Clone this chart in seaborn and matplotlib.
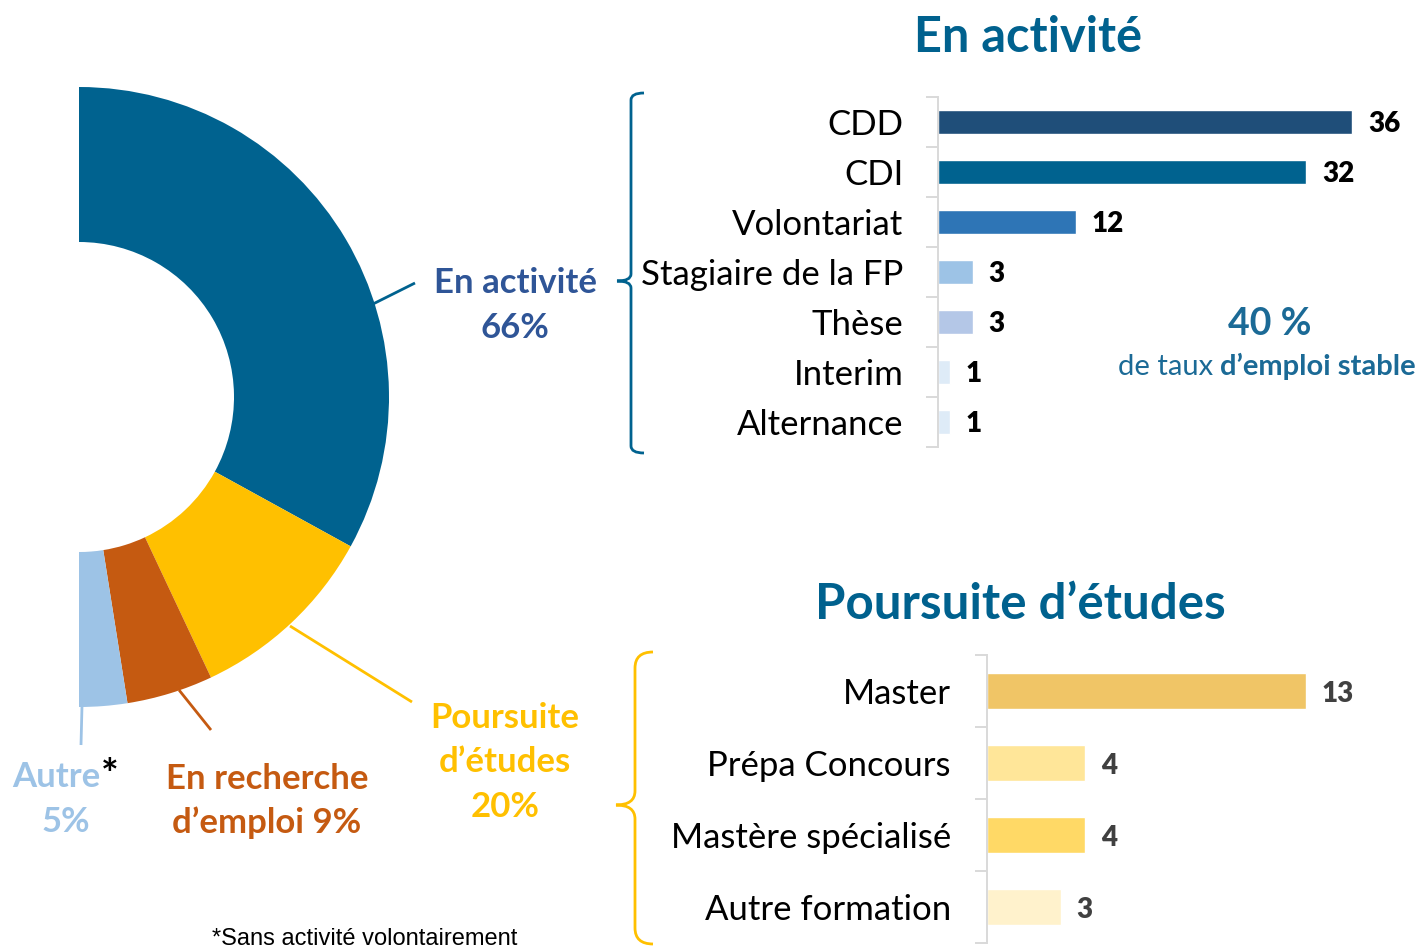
#
# Devenir des diplomes : demi-donut + 2 barres horizontales
#

import numpy as np
import matplotlib.pyplot as plt
from matplotlib.path import Path
from matplotlib.patches import PathPatch
import seaborn as sns

#%%
# Data

donut_labels = ["En activité", "Poursuite d’études", "En recherche d’emploi", "Autre"]
donut_pct = [66, 20, 9, 5]
donut_colors = ["#00628F", "#FFC000", "#C55A11", "#9DC3E6"]

act_cats = ["CDD", "CDI", "Volontariat", "Stagiaire de la FP", "Thèse", "Interim", "Alternance"]
act_vals = [36, 32, 12, 3, 3, 1, 1]
act_colors = ["#1F4E79", "#00628F", "#2E75B6", "#9DC3E6", "#B4C7E7", "#DEEBF7", "#DEEBF7"]

etu_cats = ["Master", "Prépa Concours", "Mastère spécialisé", "Autre formation"]
etu_vals = [13, 4, 4, 3]
etu_colors = ["#F0C566", "#FFE699", "#FFD966", "#FFF2CC"]

stable_rate = 40

#%%
# Figure setup (pixel helpers)

W, H = 1428, 951
sns.set_theme(style="white")
plt.rcParams['font.family'] = ['Lato', 'DejaVu Sans']

fig = plt.figure(figsize=(W / 100, H / 100), dpi=100)

def fx(x):
    return x / W

def fy(y):
    return 1 - y / H

# background axes, pixel coords with y going up
bg = fig.add_axes([0, 0, 1, 1])
wedges, _ = bg.pie(donut_pct + [sum(donut_pct)],
                   colors=donut_colors + ['white'],
                   startangle=90, counterclock=False,
                   center=(79, H - 397), radius=310,
                   wedgeprops=dict(width=155, linewidth=0), frame=True)
wedges[-1].set_visible(False)   # hidden left half
bg.set_xlim(0, W)
bg.set_ylim(0, H)
bg.set_aspect('auto')
bg.axis('off')

# leader lines
def leader(x1, y1, x2, y2, color):
    bg.plot([x1, x2], [H - y1, H - y2], color=color, lw=2, solid_capstyle='butt')

leader(373, 304, 415, 283, donut_colors[0])
leader(290, 626, 412, 702, donut_colors[1])
leader(179, 690, 211, 730, donut_colors[2])
leader(82, 706, 81, 745, donut_colors[3])

# curly braces
def brace(xh, xv, xt, y0, ym, y1, r, rt, color):
    pts = [(xh, y0), (xv, y0), (xv, y0 + r),
           (xv, ym - rt),
           (xv, ym), (xt, ym),
           (xv, ym), (xv, ym + rt),
           (xv, y1 - r),
           (xv, y1), (xh, y1)]
    codes = [Path.MOVETO, Path.CURVE3, Path.CURVE3,
             Path.LINETO,
             Path.CURVE3, Path.CURVE3,
             Path.CURVE3, Path.CURVE3,
             Path.LINETO,
             Path.CURVE3, Path.CURVE3]
    pts = [(x, H - y) for x, y in pts]
    bg.add_patch(PathPatch(Path(pts, codes), fill=False, edgecolor=color, lw=2))

brace(644, 631, 617, 93, 281, 453, 7, 7, "#00628F")
brace(653, 635, 616, 652, 805, 944, 16, 14, "#FFC000")

# donut labels
lab_kw = dict(ha='center', va='baseline', fontsize=25, fontweight='bold')
fig.text(fx(515), fy(293), "En activité", color="#2F5597", **lab_kw)
fig.text(fx(515), fy(338), f"{donut_pct[0]}%", color="#2F5597", **lab_kw)
fig.text(fx(505), fy(728), "Poursuite", color=donut_colors[1], **lab_kw)
fig.text(fx(505), fy(772), "d’études", color=donut_colors[1], **lab_kw)
fig.text(fx(505), fy(817), f"{donut_pct[1]}%", color=donut_colors[1], **lab_kw)
fig.text(fx(267), fy(789), "En recherche", color=donut_colors[2], **lab_kw)
fig.text(fx(267), fy(833), f"d’emploi {donut_pct[2]}%", color=donut_colors[2], **lab_kw)
fig.text(fx(100), fy(787), "Autre", color=donut_colors[3], ha='right', va='baseline',
         fontsize=25, fontweight='bold')
fig.text(fx(101), fy(789), "*", color='black', ha='left', va='baseline',
         fontsize=30, fontweight='bold')
fig.text(fx(66), fy(832), f"{donut_pct[3]}%", color=donut_colors[3], **lab_kw)

fig.text(fx(212), fy(945), "*Sans activité volontairement", family=['Liberation Sans'],
         fontsize=17, color='black', ha='left', va='baseline')

#%%
# Bar charts

def bar_panel(rect, cats, vals, colors, xmax, bar_w, lab_color, pad):
    ax = fig.add_axes(rect)
    sns.barplot(x=vals, y=cats, hue=cats, palette=colors, width=bar_w,
                saturation=1, legend=False, orient='h', ax=ax)
    ax.set_xlim(0, xmax)
    ax.set_ylim(len(cats) - 0.5, -0.5)
    ax.patch.set_alpha(0)
    for s in ['top', 'right', 'bottom']:
        ax.spines[s].set_visible(False)
    ax.spines['left'].set_color('#D9D9D9')
    ax.spines['left'].set_linewidth(1.4)
    ax.xaxis.set_visible(False)
    ax.set_ylabel('')
    ax.set_yticks(range(len(cats)))
    ax.set_yticklabels(cats, fontsize=25, color='black')
    ax.set_yticks(np.arange(-0.5, len(cats), 1), minor=True)
    ax.tick_params(axis='y', which='major', left=False, length=0, pad=pad)
    ax.tick_params(axis='y', which='minor', left=True, length=8.5, width=1.4,
                   color='#D9D9D9', direction='out')
    for i, v in enumerate(vals):
        ax.annotate(str(v), xy=(v, i), xytext=(11.5, -1.8), textcoords='offset points',
                    ha='left', va='center', fontsize=20, fontweight='heavy', color=lab_color)
    return ax

ax1 = bar_panel([fx(938), fy(447), 460 / W, 350 / H], act_cats, act_vals, act_colors,
                40, 0.48, 'black', 25)
ax2 = bar_panel([fx(987), fy(943), 416.5 / W, 288 / H], etu_cats, etu_vals, etu_colors,
                17, 0.49, '#404040', 26)

# titles
fig.text(fx(1028), fy(52), "En activité", ha='center', va='baseline',
         fontsize=35, fontweight='bold', color='#00618E')
fig.text(fx(1020), fy(619), "Poursuite d’études", ha='center', va='baseline',
         fontsize=35.5, fontweight='bold', color='#00618E')

# stable-job callout
fig.text(fx(1270), fy(335), f"{stable_rate} %", ha='center', va='baseline',
         fontsize=27, fontweight='bold', color='#1B6A96')
fig.text(fx(1213), fy(375), "de taux", ha='right', va='baseline',
         fontsize=21, color='#1B6A96')
fig.text(fx(1220), fy(375), "d’emploi stable", ha='left', va='baseline',
         fontsize=21, fontweight='bold', color='#1B6A96')

fig.savefig("out.png", dpi=100)
